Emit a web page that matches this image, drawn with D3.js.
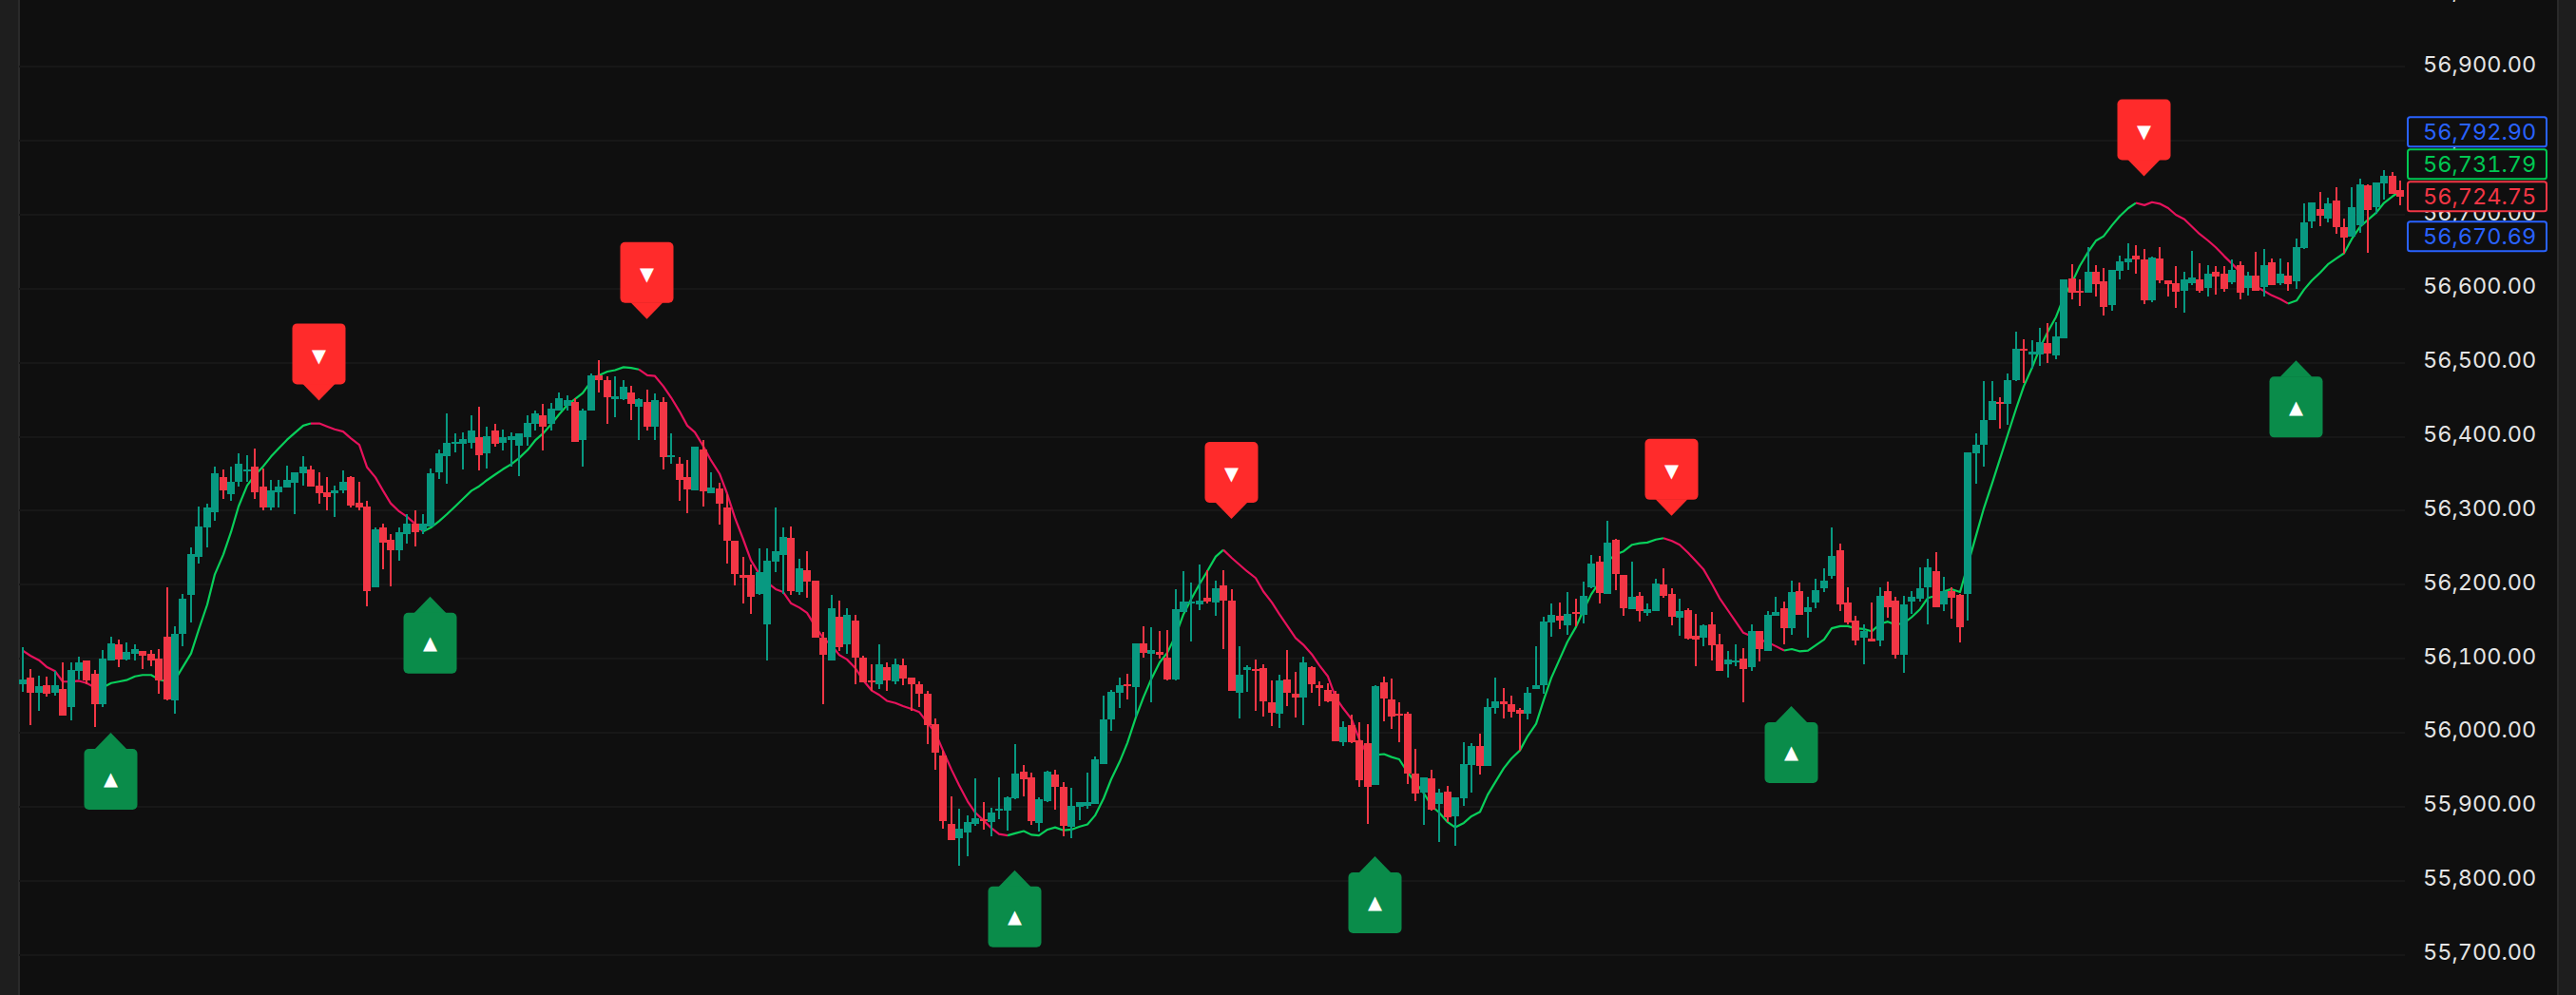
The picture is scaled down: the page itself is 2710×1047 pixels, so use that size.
<!DOCTYPE html>
<html>
<head>
<meta charset="utf-8">
<script src="https://cdn.jsdelivr.net/npm/d3@7/dist/d3.min.js"></script>
<style>
  html, body { margin: 0; padding: 0; background: #0f0f0f; overflow: hidden; }
  svg { display: block; }
  svg text { font-variant-numeric: tabular-nums; font-feature-settings: "tnum" 1; }
</style>
</head>
<body>
<div id="chart"></div>
<script>
// candles
var opens = [
  56066,56075,56054,56064,56054,56059,56035,56084,56098,56079,
  56039,56098,56120,56099,56106,56111,56106,56100,56130,56044,
  56133,56186,56237,56277,56298,56345,56322,56339,56354,56360,
  56332,56304,56325,56331,56338,56350,56356,56334,56325,56323,
  56327,56345,56311,56306,56196,56278,56261,56246,56269,56283,
  56274,56279,56352,56374,56391,56391,56392,56400,56378,56408,
  56392,56396,56388,56400,56418,56429,56417,56436,56442,56447,
  56395,56435,56483,56476,56451,56451,56460,56441,56447,56413,
  56447,56373,56363,56345,56327,56383,56324,56330,56305,56259,
  56213,56213,56188,56146,56231,56240,56263,56190,56219,56206,
  56129,56098,56157,56120,56152,56102,56070,56066,56089,56069,
  56091,56074,56065,56052,56012,55969,55877,55857,55865,55877,
  55883,55879,55895,55895,55911,55947,55940,55878,55908,55944,
  55927,55873,55900,55901,55904,55958,56018,56054,56065,56062,
  56121,56107,56109,56101,56072,56163,56174,56173,56182,56176,
  56199,56179,56054,56085,56086,56087,56041,56026,56072,56053,
  56048,56089,56064,56058,56053,55987,56010,55990,55986,55929,
  56068,56045,56026,56026,55945,55919,55938,55904,55920,55887,
  55911,55956,55982,55955,56033,56042,56039,56031,56026,56059,
  56064,56149,56158,56145,56163,56159,56196,56231,56187,56261,
  56213,56167,56185,56162,56164,56200,56187,56155,56166,56131,
  56128,56146,56119,56093,56095,56100,56088,56138,56111,56158,
  56168,56141,56191,56163,56176,56195,56212,56246,56176,56151,
  56129,56127,56124,56191,56179,56105,56177,56181,56196,56218,
  56173,56191,56186,56187,56377,56389,56422,56447,56445,56477,
  56519,56511,56511,56526,56510,56533,56614,56597,56595,56623,
  56610,56578,56624,56636,56645,56639,56585,56641,56612,56608,
  56597,56608,56613,56601,56623,56621,56609,56632,56601,56618,
  56603,56636,56608,56618,56610,56655,56691,56708,56695,56719,
  56683,56670,56686,56740,56710,56742,56753,56733
];
var closes = [
  56072,56054,56063,56053,56064,56023,56085,56095,56070,56038,
  56100,56121,56099,56109,56113,56104,56097,56071,56045,56134,
  56181,56241,56279,56305,56350,56327,56339,56363,56356,56325,
  56305,56327,56333,56341,56352,56359,56333,56324,56318,56328,
  56339,56307,56304,56191,56275,56257,56246,56271,56283,56271,
  56282,56351,56377,56392,56393,56397,56409,56375,56401,56390,
  56399,56401,56404,56419,56431,56414,56438,56452,56449,56393,
  56436,56483,56477,56454,56455,56468,56444,56451,56413,56450,
  56373,56375,56341,56329,56387,56326,56331,56309,56259,56214,
  56209,56183,56217,56233,56245,56265,56191,56222,56204,56129,
  56105,56168,56116,56159,56102,56068,56068,56093,56071,56092,
  56073,56066,56052,56010,55973,55880,55855,55870,55879,55884,
  55881,55892,55897,55913,55945,55937,55881,55910,55947,55927,
  55874,55901,55906,55906,55964,56018,56055,56064,56063,56121,
  56108,56112,56105,56072,56167,56177,56177,56178,56177,56195,
  56179,56056,56078,56089,56083,56042,56027,56071,56054,56048,
  56095,56065,56060,56042,55988,56008,55987,55936,55927,56063,
  56046,56022,56023,55945,55918,55940,55896,55919,55886,55913,
  55958,55982,55955,56035,56042,56039,56028,56026,56054,56064,
  56150,56159,56152,56161,56161,56185,56229,56189,56257,56214,
  56168,56184,56164,56167,56202,56185,56157,56164,56127,56126,
  56145,56118,56084,56099,56097,56086,56137,56113,56159,56163,
  56141,56190,56159,56170,56192,56206,56239,56173,56149,56124,
  56138,56123,56185,56170,56105,56173,56183,56195,56223,56169,
  56191,56182,56142,56379,56389,56423,56448,56445,56477,56519,
  56517,56515,56528,56513,56536,56613,56595,56595,56623,56606,
  56576,56626,56637,56641,56639,56585,56642,56612,56606,56596,
  56613,56615,56597,56621,56617,56600,56626,56595,56618,56597,
  56632,56605,56621,56606,56656,56690,56717,56699,56715,56683,
  56669,56710,56741,56706,56744,56753,56728,56724.75
];
var highs = [
  56115,56086,56077,56076,56083,56095,56095,56103,56098,56085,
  56112,56130,56126,56122,56120,56111,56112,56113,56197,56144,
  56187,56251,56306,56310,56360,56356,56359,56378,56375,56384,
  56357,56342,56341,56361,56352,56374,56361,56352,56346,56334,
  56354,56347,56339,56313,56277,56282,56268,56277,56295,56301,
  56296,56357,56383,56432,56405,56406,56429,56441,56414,56418,
  56410,56406,56405,56429,56436,56445,56446,56460,56456,56452,
  56438,56486,56503,56481,56482,56476,56469,56452,56464,56459,
  56454,56404,56372,56369,56387,56396,56352,56338,56322,56259,
  56237,56227,56249,56249,56304,56277,56279,56235,56245,56206,
  56136,56186,56178,56168,56159,56104,56093,56120,56095,56100,
  56100,56075,56069,56057,56019,55975,55914,55897,55888,55938,
  55906,55899,55940,55914,55985,55956,55946,55913,55949,55950,
  55933,55926,55906,55946,55968,56050,56058,56074,56080,56121,
  56144,56143,56137,56139,56194,56218,56203,56227,56219,56205,
  56219,56194,56117,56091,56099,56092,56071,56078,56112,56082,
  56103,56090,56069,56067,56056,56015,56024,56014,56012,56064,
  56076,56073,56041,56028,55978,55940,55950,55924,55928,55913,
  55987,55986,55999,56046,56074,56060,56050,56033,56062,56117,
  56157,56175,56176,56190,56181,56204,56240,56239,56286,56262,
  56213,56231,56190,56175,56208,56222,56195,56181,56168,56160,
  56147,56163,56133,56110,56119,56114,56147,56138,56164,56183,
  56177,56205,56203,56183,56208,56222,56277,56256,56197,56158,
  56146,56176,56196,56204,56183,56185,56191,56224,56235,56244,
  56210,56196,56188,56379,56405,56475,56475,56454,56486,56542,
  56532,56531,56547,56554,56555,56613,56633,56613,56656,56632,
  56628,56626,56645,56662,56659,56654,56644,56656,56612,56631,
  56623,56651,56635,56632,56630,56630,56640,56637,56623,56650,
  56654,56641,56641,56636,56668,56715,56717,56731,56723,56737,
  56695,56737,56749,56741,56744,56760,56758,56746
];
var lows = [
  56055,56010,56030,56049,56050,56023,56017,56072,56066,56008,
  56035,56097,56088,56098,56098,56086,56090,56052,56044,56025,
  56117,56149,56229,56250,56287,56316,56314,56332,56339,56316,
  56300,56301,56304,56331,56295,56334,56333,56310,56301,56291,
  56323,56304,56301,56171,56196,56221,56198,56233,56255,56252,
  56268,56279,56343,56336,56379,56356,56384,56354,56357,56387,
  56381,56360,56347,56388,56408,56381,56409,56436,56436,56393,
  56359,56435,56460,56418,56427,56449,56422,56396,56408,56396,
  56356,56363,56314,56297,56327,56306,56324,56281,56228,56199,
  56175,56160,56186,56097,56217,56188,56186,56186,56182,56129,
  56039,56098,56111,56107,56066,56068,56057,56059,56056,56066,
  56064,56030,56035,55985,55950,55870,55855,55820,55833,55874,
  55869,55860,55883,55868,55910,55914,55875,55866,55906,55896,
  55860,55857,55882,55897,55904,55958,56003,56033,56045,56022,
  56101,56041,56100,56071,56071,56163,56123,56166,56174,56158,
  56113,56056,56019,56055,56030,56022,56009,56006,56036,56021,
  56010,56054,56036,56041,55988,55982,55986,55927,55877,55929,
  56015,56005,55987,55931,55908,55875,55895,55852,55879,55847,
  55901,55919,55944,55955,56026,56019,56021,55976,56018,56059,
  56053,56130,56140,56132,56144,56148,56195,56175,56187,56193,
  56158,56167,56150,56158,56164,56182,56145,56131,56126,56090,
  56117,56097,56084,56074,56090,56041,56084,56096,56110,56158,
  56119,56132,56159,56129,56168,56190,56208,56164,56147,56118,
  56092,56123,56117,56156,56100,56081,56161,56177,56146,56169,
  56164,56154,56122,56152,56337,56359,56422,56411,56416,56475,
  56472,56492,56496,56500,56505,56533,56586,56577,56595,56590,
  56564,56570,56613,56626,56621,56579,56582,56608,56590,56574,
  56568,56605,56595,56590,56592,56596,56606,56586,56591,56597,
  56590,56605,56605,56597,56600,56654,56682,56685,56690,56674,
  56647,56670,56676,56649,56701,56721,56728,56713
];

// the smoothed line on top of the price, one value per bar
var lineValues = [
  56111,56104,56098,56089,56083,56069,56069,56070,56067,56061,
  56061,56067,56069,56071,56076,56078,56078,56072,56069,56071,
  56088,56107,56139,56173,56214,56241,56271,56306,56334,56348,
  56360,56373,56384,56396,56405,56415,56418,56418,56414,56410,
  56407,56398,56389,56359,56345,56327,56310,56299,56292,56282,
  56272,56277,56286,56295,56306,56316,56327,56333,56341,56349,
  56356,56363,56371,56382,56395,56404,56417,56430,56443,56451,
  56459,56475,56483,56488,56490,56494,56493,56491,56483,56482,
  56468,56453,56434,56415,56406,56387,56368,56350,56323,56291,
  56261,56233,56214,56203,56194,56190,56175,56169,56162,56143,
  56128,56118,56105,56099,56087,56071,56057,56051,56043,56040,
  56036,56032,56028,56013,56000,55976,55950,55929,55907,55892,
  55881,55871,55863,55861,55864,55867,55862,55861,55869,55872,
  55868,55869,55873,55876,55888,55911,55937,55961,55986,56021,
  56048,56072,56095,56108,56132,56160,56180,56201,56218,56238,
  56247,56236,56227,56218,56209,56191,56176,56160,56145,56128,
  56119,56106,56091,56076,56048,56033,56018,55991,55969,55970,
  55971,55967,55964,55946,55933,55918,55901,55892,55879,55872,
  55878,55887,55893,55916,55933,55952,55965,55976,55995,56012,
  56044,56074,56100,56123,56143,56166,56187,56204,56232,56241,
  56245,56254,56256,56257,56261,56263,56259,56254,56243,56232,
  56221,56201,56182,56165,56150,56135,56130,56126,56122,56117,
  56111,56113,56110,56111,56118,56126,56141,56144,56144,56141,
  56140,56137,56147,56150,56146,56148,56156,56167,56182,56185,
  56191,56194,56190,56226,56267,56303,56338,56370,56402,56438,
  56468,56494,56520,56541,56562,56588,56609,56631,56650,56665,
  56671,56686,56698,56709,56716,56713,56717,56715,56709,56700,
  56694,56684,56674,56665,56656,56644,56634,56622,56612,56603,
  56597,56591,56586,56580,56584,56599,56611,56622,56633,56641,
  56648,56667,56684,56693,56703,56716,56725,56731.79
];
// bars where the line changes trend, starting with a falling stretch
var lineTurns = [0, 10, 36, 50, 77, 123, 150, 168, 205, 220, 264, 283, 297];

// signal flags: bar and the price the tip points at
var buyBars = [11, 51, 124, 169, 221, 284];
var buyPrices = [56000, 56184, 55814, 55833, 56036, 56503];
var sellBars = [37, 78, 151, 206, 265];
var sellPrices = [56449, 56559, 56289, 56293, 56752];

var priceTicks = [57000, 56900, 56800, 56700, 56600, 56500, 56400, 56300, 56200, 56100, 56000, 55900, 55800, 55700];

var priceTags = [56792.90, 56731.79, 56724.75, 56670.69];
var tagKinds = ["blue", "green", "red", "blue"];

var svgWidth = 2710;
var svgHeight = 1047;
var paneLeft = 20;
var paneRight = 2530;

var upColor = "#089981";
var downColor = "#f23645";
var tagColors = { blue: "#2962ff", green: "#00c853", red: "#f23645" };

var svg = d3.select("#chart").append("svg")
  .attr("width", svgWidth)
  .attr("height", svgHeight)
  .style("font-family", "Inter, sans-serif");

svg.append("rect").attr("width", svgWidth).attr("height", svgHeight).attr("fill", "#0f0f0f");

// side strips of the page around the chart
svg.append("rect").attr("x", 0).attr("y", 0).attr("width", 19).attr("height", svgHeight).attr("fill", "#1e1e1e");
svg.append("rect").attr("x", 19).attr("y", 0).attr("width", 2).attr("height", svgHeight).attr("fill", "#2a2a2a");
svg.append("rect").attr("x", 2690).attr("y", 0).attr("width", 20).attr("height", svgHeight).attr("fill", "#1e1e1e");
svg.append("rect").attr("x", 2690).attr("y", 0).attr("width", 2).attr("height", svgHeight).attr("fill", "#2a2a2a");

var xScale = d3.scaleLinear().domain([0, opens.length - 1]).rangeRound([24, 2525]);
var yScale = d3.scaleLinear().domain([56900, 55900]).range([70.3, 848.8]);

// grid
svg.append("g").selectAll("rect")
  .data(priceTicks)
  .enter()
  .append("rect")
  .attr("x", paneLeft)
  .attr("y", function(d) { return Math.round(yScale(d)) - 1; })
  .attr("width", paneRight - paneLeft)
  .attr("height", 2)
  .attr("fill", "#171717");

// price axis
var yAxis = d3.axisRight(yScale)
  .tickValues(priceTicks)
  .tickFormat(d3.format(",.2f"))
  .tickSize(0)
  .tickPadding(0);

var axisGroup = svg.append("g")
  .attr("transform", "translate(2549, 0)")
  .call(yAxis);
axisGroup.select(".domain").remove();
axisGroup.selectAll("text")
  .attr("y", -2.5)
  .attr("font-family", "Inter, sans-serif")
  .attr("font-size", "23.5px")
  .attr("fill", "#e4e4e4");

// line, cut into its falling and rising stretches
var line = d3.line()
  .x(function(d) { return xScale(d); })
  .y(function(d) { return yScale(lineValues[d]); });

var lineGroup = svg.append("g").attr("fill", "none").attr("stroke-width", 2.2).attr("stroke-linejoin", "round");
for (var s = 0; s < lineTurns.length - 1; s++) {
  lineGroup.append("path")
    .attr("d", line(d3.range(lineTurns[s], lineTurns[s + 1] + 1)))
    .attr("stroke", s % 2 == 0 ? "#e6125c" : "#09cf5b");
}

// candles
var bars = d3.range(opens.length);
var candleGroup = svg.append("g").attr("shape-rendering", "crispEdges");

candleGroup.selectAll(".wick")
  .data(bars)
  .enter()
  .append("rect")
  .attr("class", "wick")
  .attr("x", function(i) { return xScale(i) - 1; })
  .attr("y", function(i) { return yScale(highs[i]); })
  .attr("width", 2)
  .attr("height", function(i) { return yScale(lows[i]) - yScale(highs[i]); })
  .attr("fill", function(i) { return closes[i] >= opens[i] ? upColor : downColor; });

candleGroup.selectAll(".body")
  .data(bars)
  .enter()
  .append("rect")
  .attr("class", "body")
  .attr("x", function(i) { return xScale(i) - 4; })
  .attr("y", function(i) { return yScale(Math.max(opens[i], closes[i])); })
  .attr("width", 8)
  .attr("height", function(i) { return Math.max(2, Math.abs(yScale(opens[i]) - yScale(closes[i]))); })
  .attr("fill", function(i) { return closes[i] >= opens[i] ? upColor : downColor; });

// signal flags
function drawFlag(bar, price, isBuy) {
  var x = xScale(bar) - 0.5;
  var y = yScale(price);
  var dir = isBuy ? 1 : -1;
  var fill = isBuy ? "#0a8c4a" : "#ff2b2b";
  var flag = svg.append("g");

  flag.append("path")
    .attr("d", "M" + x + "," + y + "L" + (x + 17) + "," + (y + dir * 17.5) + "L" + (x - 17) + "," + (y + dir * 17.5) + "Z")
    .attr("fill", fill);
  flag.append("rect")
    .attr("x", x - 28)
    .attr("y", isBuy ? y + 17 : y - 81)
    .attr("width", 56)
    .attr("height", 64)
    .attr("rx", 5)
    .attr("fill", fill);
  flag.append("text")
    .attr("x", x)
    .attr("y", y + dir * 48 + 7.5)
    .attr("text-anchor", "middle")
    .attr("font-family", "DejaVu Sans")
    .attr("font-size", "19.5px")
    .attr("fill", "#ffffff")
    .text(isBuy ? "▲" : "▼");
}

buyBars.forEach(function(bar, i) { drawFlag(bar, buyPrices[i], true); });
sellBars.forEach(function(bar, i) { drawFlag(bar, sellPrices[i], false); });

// price tags, pushed upward where they would overlap
var tagHeight = 34;
var tagCenters = priceTags.map(function(d) { return yScale(d); });
for (var t = priceTags.length - 2; t >= 0; t--) {
  if (tagCenters[t] > tagCenters[t + 1] - tagHeight) {
    tagCenters[t] = tagCenters[t + 1] - tagHeight;
  }
}

var tags = svg.append("g").selectAll("g")
  .data(priceTags)
  .enter()
  .append("g")
  .attr("transform", function(d, i) { return "translate(2533, " + tagCenters[i] + ")"; });

tags.append("rect")
  .attr("x", 0)
  .attr("y", -15.5)
  .attr("width", 146)
  .attr("height", 31)
  .attr("rx", 2.5)
  .attr("fill", "#0f0f0f")
  .attr("stroke-width", 2)
  .attr("stroke", function(d, i) { return tagColors[tagKinds[i]]; });

tags.append("text")
  .attr("x", 16)
  .attr("y", 8)
  .attr("font-size", "23.5px")
  .attr("fill", function(d, i) { return tagColors[tagKinds[i]]; })
  .text(function(d) { return d3.format(",.2f")(d); });
</script>
</body>
</html>
